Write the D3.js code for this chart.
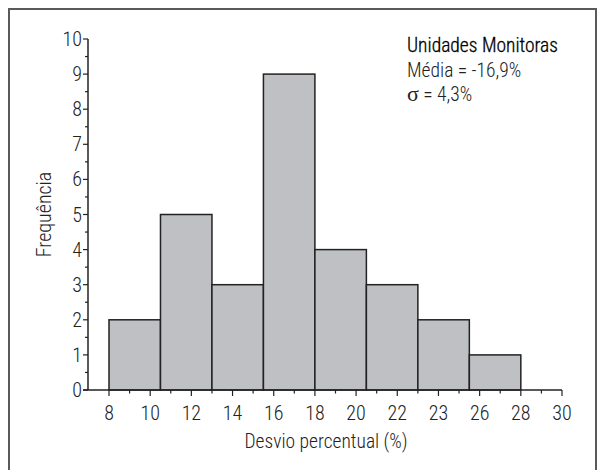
<!DOCTYPE html>
<html>
<head>
<meta charset="utf-8">
<script src="https://cdn.jsdelivr.net/npm/d3@7"></script>
<style>
  body { margin: 0; background: #fff; }
  svg text { font-family: "Liberation Sans Narrow", "Roboto Condensed", "DejaVu Sans Condensed", "Arial Narrow", sans-serif; fill: #222; font-weight: 300; }
</style>
</head>
<body>
<svg id="chart" width="603" height="470"></svg>
<script>
// bins of the histogram (desvio percentual, %)
const binStarts = [8, 10.5, 13, 15.5, 18, 20.5, 23, 25.5];
const binEnds = [10.5, 13, 15.5, 18, 20.5, 23, 25.5, 28];
const counts = [2, 5, 3, 9, 4, 3, 2, 1];

const xTickValues = [8, 10, 12, 14, 16, 18, 20, 22, 24, 26, 28, 30];
const xTickLabels = ["8", "10", "12", "14", "16", "18", "20", "22", "23", "26", "28", "30"];
const yTickValues = [0, 1, 2, 3, 4, 5, 6, 7, 8, 9, 10];

const notes = ["Unidades Monitoras", "Média = -16,9%", "σ = 4,3%"];

const svg = d3.select("#chart");
const axisX0 = 88;

// frame
svg.append("rect")
  .attr("x", 9).attr("y", 9)
  .attr("width", 587).attr("height", 480)
  .attr("fill", "none")
  .attr("stroke", "#5a5a5a")
  .attr("stroke-width", 2);

const x = d3.scaleLinear().domain([8, 30]).range([109, 562]);
const y = d3.scaleLinear().domain([0, 10]).range([390, 39]);

// bars
svg.append("g").selectAll("rect")
  .data(counts)
  .enter().append("rect")
  .attr("x", (d, i) => x(binStarts[i]))
  .attr("y", d => y(d))
  .attr("width", (d, i) => x(binEnds[i]) - x(binStarts[i]))
  .attr("height", d => y(0) - y(d))
  .attr("fill", "#bfc0c3")
  .attr("stroke", "#222")
  .attr("stroke-width", 1.5);

// x axis
const gx = svg.append("g").attr("transform", `translate(0, ${y(0)})`);
gx.append("line")
  .attr("x1", axisX0 - 5).attr("x2", x(30))
  .attr("stroke", "#222").attr("stroke-width", 1.5);
gx.selectAll(".minor")
  .data(d3.range(9, 30, 2))
  .enter().append("line")
  .attr("x1", d => x(d)).attr("x2", d => x(d))
  .attr("y1", 0).attr("y2", 3.5)
  .attr("stroke", "#222").attr("stroke-width", 1.2);
gx.selectAll(".major")
  .data(xTickValues)
  .enter().append("line")
  .attr("x1", d => x(d)).attr("x2", d => x(d))
  .attr("y1", 0).attr("y2", 6)
  .attr("stroke", "#222").attr("stroke-width", 1.2);
gx.selectAll("text")
  .data(xTickValues)
  .enter().append("text")
  .attr("x", d => x(d))
  .attr("y", 30)
  .attr("text-anchor", "middle")
  .style("font-size", "20px")
  .text((d, i) => xTickLabels[i]);

// y axis
const gy = svg.append("g").attr("transform", `translate(${axisX0}, 0)`);
gy.append("line")
  .attr("y1", y(0)).attr("y2", y(10))
  .attr("stroke", "#222").attr("stroke-width", 1.5);
gy.selectAll(".minor")
  .data(d3.range(0.5, 10, 1))
  .enter().append("line")
  .attr("y1", d => y(d)).attr("y2", d => y(d))
  .attr("x1", 0).attr("x2", -3)
  .attr("stroke", "#222").attr("stroke-width", 1.2);
gy.selectAll(".major")
  .data(yTickValues)
  .enter().append("line")
  .attr("y1", d => y(d)).attr("y2", d => y(d))
  .attr("x1", 0).attr("x2", -5)
  .attr("stroke", "#222").attr("stroke-width", 1.2);
gy.selectAll("text")
  .data(yTickValues)
  .enter().append("text")
  .attr("x", -6)
  .attr("y", d => y(d) + 7)
  .attr("text-anchor", "end")
  .style("font-size", "20px")
  .text(d => d);

// axis titles
svg.append("text")
  .attr("x", 326).attr("y", 448)
  .attr("text-anchor", "middle")
  .style("font-size", "19.5px")
  .text("Desvio percentual (%)");

svg.append("text")
  .attr("transform", `translate(51, ${y(5)}) rotate(-90)`)
  .attr("text-anchor", "middle")
  .style("font-size", "20px")
  .text("Frequência");

// stats box (the sigma is set in a serif face as in the original)
const noteText = svg.append("g").selectAll("text")
  .data(notes)
  .enter().append("text")
  .attr("x", 407)
  .attr("y", (d, i) => 52 + i * 24.5)
  .style("font-size", "19.5px")
  .style("fill", (d, i) => i === 0 ? "#000" : "#222")
  .style("stroke", (d, i) => i === 0 ? "#000" : "none")
  .style("stroke-width", 0.3);

noteText.each(function(d) {
  const t = d3.select(this);
  if (d.startsWith("σ")) {
    t.append("tspan")
      .style("font-family", "'Liberation Serif', 'DejaVu Serif', serif")
      .style("font-size", "22px")
      .style("font-weight", 400)
      .text("σ");
    t.append("tspan").text(d.slice(1));
  } else {
    t.text(d);
  }
});
</script>
</body>
</html>
